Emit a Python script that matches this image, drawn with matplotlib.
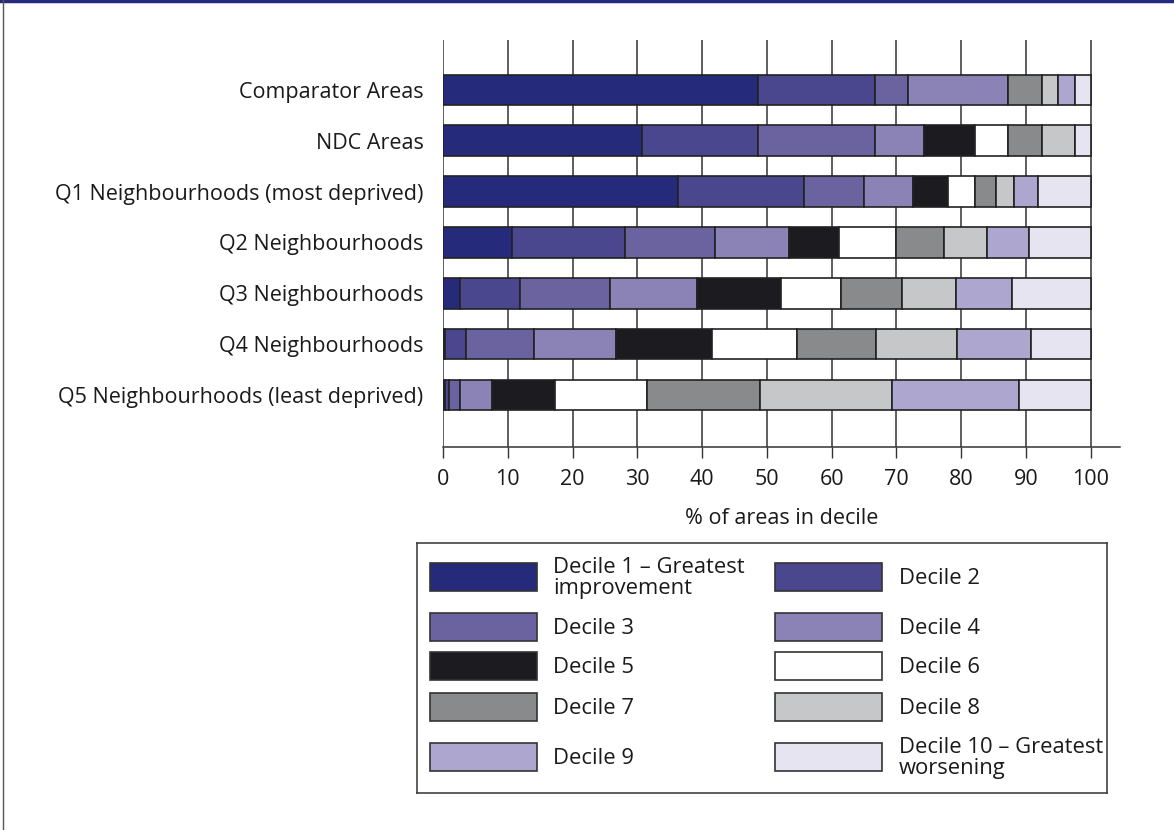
import matplotlib
matplotlib.use("Agg")
import matplotlib.pyplot as plt
from matplotlib.patches import Rectangle
import numpy as np

plt.rcParams['font.family'] = ['Open Sans', 'DejaVu Sans']

categories = [
    "Comparator Areas",
    "NDC Areas",
    "Q1 Neighbourhoods (most deprived)",
    "Q2 Neighbourhoods",
    "Q3 Neighbourhoods",
    "Q4 Neighbourhoods",
    "Q5 Neighbourhoods (least deprived)",
]

decile_1 = [48.6, 30.7, 36.2, 10.6, 2.6, 0.3, 0.3]
decile_2 = [18.1, 17.9, 19.5, 17.5, 9.3, 3.3, 0.6]
decile_3 = [5.1, 18.1, 9.3, 13.9, 13.9, 10.5, 1.7]
decile_4 = [15.4, 7.5, 7.5, 11.4, 13.4, 12.6, 4.9]
decile_5 = [0.0, 7.9, 5.5, 7.8, 13.0, 14.8, 9.8]
decile_6 = [0.0, 5.1, 4.1, 8.7, 9.2, 13.1, 14.2]
decile_7 = [5.2, 5.2, 3.3, 7.4, 9.5, 12.2, 17.5]
decile_8 = [2.6, 5.1, 2.7, 6.6, 8.3, 12.5, 20.3]
decile_9 = [2.5, 0.0, 3.7, 6.5, 8.7, 11.5, 19.6]
decile_10 = [2.5, 2.5, 8.2, 9.6, 12.1, 9.2, 11.1]

series = [decile_1, decile_2, decile_3, decile_4, decile_5,
          decile_6, decile_7, decile_8, decile_9, decile_10]

legend_labels = [
    "Decile 1 \u2013 Greatest\nimprovement", "Decile 2",
    "Decile 3", "Decile 4",
    "Decile 5", "Decile 6",
    "Decile 7", "Decile 8",
    "Decile 9", "Decile 10 \u2013 Greatest\nworsening",
]

colors = ["#252a7a", "#4b478f", "#6b62a0", "#8b82b5", "#1c1b20",
          "#ffffff", "#898a8c", "#c6c7c9", "#ada6cf", "#e6e4f0"]

xticks = list(range(0, 101, 10))

W, H = 1174, 830
fig = plt.figure(figsize=(W / 100, H / 100), dpi=100)

# frame decorations
fig.add_artist(plt.Line2D([0, 1], [1 - 1.5 / H, 1 - 1.5 / H], color="#252a7a", lw=2.5,
                          transform=fig.transFigure))
fig.add_artist(plt.Line2D([2.5 / W, 2.5 / W], [0, 1], color="#555555", lw=1.0,
                          transform=fig.transFigure))

ax = fig.add_axes([443 / W, 1 - 447 / H, (1120 - 443) / W, (447 - 40) / H])

y = np.arange(len(categories))
left = np.zeros(len(categories))
for vals, c in zip(series, colors):
    vals = np.array(vals)
    ax.barh(y, vals, left=left, height=0.6, color=c, edgecolor="#222222",
            linewidth=1.2, zorder=3)
    left += vals

FS = 15.5
ax.set_xlim(0, 104.5)
ax.set_ylim(len(categories) - 1 + 1.02, -0.98)
ax.set_yticks(y)
ax.set_yticklabels(categories, fontsize=FS, color="#1a1a1a")
ax.set_xticks(xticks)
ax.set_xticklabels([str(t) for t in xticks], fontsize=FS, color="#1a1a1a")
ax.set_xlabel("% of areas in decile", fontsize=FS, color="#1a1a1a", labelpad=13)
ax.tick_params(axis="y", length=0, pad=14)
ax.tick_params(axis="x", length=8, width=1.0, color="#333333", pad=8, direction="out")
ax.grid(axis="x", color="#333333", linewidth=1.1, zorder=0)
ax.set_axisbelow(True)
for s in ["top", "right"]:
    ax.spines[s].set_visible(False)
ax.spines["left"].set_visible(False)
ax.spines["bottom"].set_color("#333333")
ax.spines["bottom"].set_linewidth(1.1)

# legend box
lg = fig.add_axes([417 / W, 1 - 793 / H, 690 / W, 250 / H])
lg.set_xlim(0, 690)
lg.set_ylim(250, 0)
lg.set_xticks([])
lg.set_yticks([])
for s in lg.spines.values():
    s.set_color("#333333")
    s.set_linewidth(1.1)

row_centers = [34, 84, 123.5, 164.5, 214]
col_handle_x = [13, 358]
col_text_x = [136, 482]
hw, hh = 107, 28
for i, (lab, c) in enumerate(zip(legend_labels, colors)):
    r, col = i // 2, i % 2
    yc = row_centers[r]
    lg.add_patch(Rectangle((col_handle_x[col], yc - hh / 2), hw, hh,
                           facecolor=c, edgecolor="#333333", linewidth=1.2))
    lg.text(col_text_x[col], yc + 1, lab, fontsize=15.8, va="center", ha="left",
            color="#1a1a1a", linespacing=1.02)

fig.savefig("out.png", dpi=100)
